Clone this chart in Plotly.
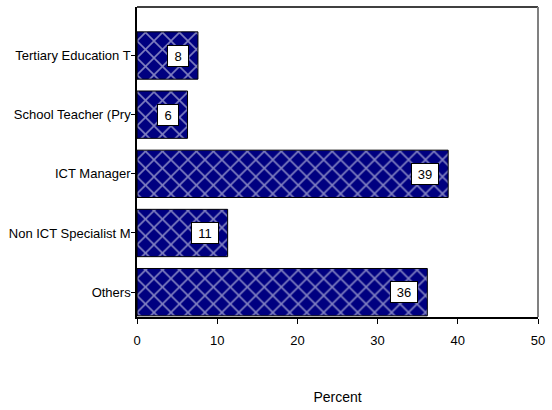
import plotly.graph_objects as go

# Occupation categories (bottom to top) and their share in percent
categories = ["Others", "Non ICT Specialist M", "ICT Manager", "School Teacher (Pry", "Tertiary Education T"]
percent = [36.2, 11.3, 38.8, 6.3, 7.6]
x_ticks = [0, 10, 20, 30, 40, 50]

FONT = "Liberation Sans, Arial"

fig = go.Figure(
    go.Bar(
        y=categories,
        x=percent,
        orientation="h",
        width=0.8,
        marker=dict(
            color="#000080",
            line=dict(color="black", width=1),
            pattern=dict(shape="x", bgcolor="#000080", fgcolor="white",
                         size=12, solidity=0.25, fillmode="overlay"),
        ),
        hoverinfo="x+y",
    )
)

# value labels in white boxes near the bar ends
for cat, val in zip(categories, percent):
    fig.add_annotation(
        x=val, y=cat, text=f"{val:.0f}", showarrow=False,
        xanchor="right", xshift=-9,
        bgcolor="white", bordercolor="black", borderwidth=1, borderpad=2,
        width=16 if val < 10 else 22, height=16,
        font=dict(family=FONT, size=13, color="black"),
    )

# top and right frame lines
fig.add_shape(type="line", xref="paper", yref="paper", x0=0, x1=1, y0=1, y1=1,
              line=dict(color="black", width=1.5))
fig.add_shape(type="line", xref="paper", yref="paper", x0=1, x1=1, y0=0, y1=1,
              line=dict(color="#808080", width=2))

fig.update_layout(
    width=552, height=410,
    margin=dict(l=137, r=10, t=7, b=90),
    plot_bgcolor="white", paper_bgcolor="white",
    font=dict(family=FONT, size=13, color="black"),
    showlegend=False,
    bargap=0.2,
)
fig.update_xaxes(
    range=[0, 50], tickvals=x_ticks, ticktext=[str(t) for t in x_ticks],
    showgrid=False, zeroline=False,
    showline=True, linecolor="black", linewidth=1.5,
    ticks="outside", ticklen=5, tickcolor="black", ticklabelstandoff=6,
    tickfont=dict(size=13),
    title=dict(text="Percent", font=dict(size=14), standoff=45),
)
fig.update_yaxes(
    categoryorder="array", categoryarray=categories,
    range=[-0.42, 4.82],
    showgrid=False, zeroline=False,
    showline=True, linecolor="black", linewidth=1.5,
    ticks="outside", ticklen=4, tickcolor="black", ticklabelstandoff=-2,
    tickfont=dict(size=13),
)

fig.write_html("out.html")
